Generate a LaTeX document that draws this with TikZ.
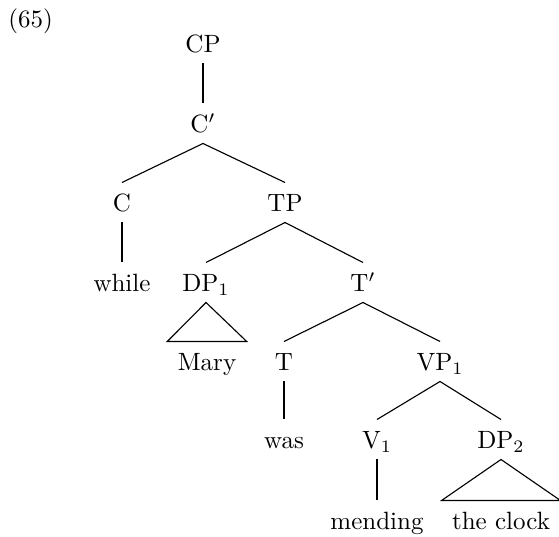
\documentclass[tikz,border=0pt]{standalone}
\begin{document}
\begin{tikzpicture}[x=0.4pt,y=-0.4pt,
  tn/.style={inner sep=0pt,text height=11.6pt,text depth=4pt,anchor=base},
  lf/.style={tn,inner xsep=4pt},
  br/.style={line width=0.45pt}]
\useasboundingbox (0,0) rectangle (559,537);
\node[anchor=base west,inner sep=0pt] (ex) at (8,28) {(65)};
\node[tn] (cp) at (203,53) {CP};
\node[tn] (cbar) at (203,133) {C$'$};
\node[tn] (c) at (122,212) {C};
\node[tn] (tp) at (285,212) {TP};
\node[tn] (while) at (122,292) {while};
\node[tn] (dp1) at (206,292) {DP$_1$};
\node[tn] (tbar) at (363,292) {T$'$};
\node[lf] (mary) at (207,371) {Mary};
\node[tn] (t) at (284,371) {T};
\node[tn] (vp1) at (440,371) {VP$_1$};
\node[tn] (was) at (284,449) {was};
\node[tn] (v1) at (377,449) {V$_1$};
\node[tn] (dp2) at (501,449) {DP$_2$};
\node[tn] (mending) at (377,530) {mending};
\node[lf] (clock) at (501,530) {the clock};
\draw[br] (cp.south) -- (cbar.north);
\draw[br] (cbar.south) -- (c.north);
\draw[br] (cbar.south) -- (tp.north);
\draw[br] (c.south) -- (while.north);
\draw[br] (tp.south) -- (dp1.north);
\draw[br] (tp.south) -- (tbar.north);
\draw[br] (dp1.south) -- (mary.north west) -- (mary.north east) -- cycle;
\draw[br] (tbar.south) -- (t.north);
\draw[br] (tbar.south) -- (vp1.north);
\draw[br] (t.south) -- (was.north);
\draw[br] (vp1.south) -- (v1.north);
\draw[br] (vp1.south) -- (dp2.north);
\draw[br] (v1.south) -- (mending.north);
\draw[br] (dp2.south) -- (clock.north west) -- (clock.north east) -- cycle;
\end{tikzpicture}
\end{document}
